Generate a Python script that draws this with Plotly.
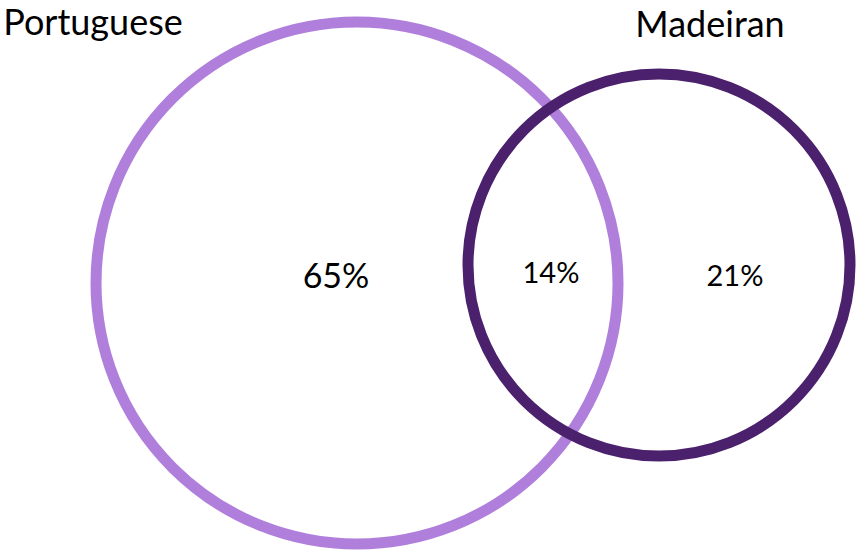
import plotly.graph_objects as go

# data
set_names = ["Portuguese", "Madeiran"]
region_values = [65, 14, 21]  # only Portuguese, both, only Madeiran (%)

# layout (pixel space of the 856x556 page)
W, H = 856, 556
circle_cx = [357, 659]
circle_cy = [283, 265]
circle_r = [261, 191]
circle_colors = ["#B07FDC", "#4B206C"]
name_x = [93, 710]
name_y = [26, 28]
region_x = [336, 551, 735]
region_y = [279, 276, 279]
region_sizes = [34, 29, 29]

fig = go.Figure()

for i in range(2):
    fig.add_shape(
        type="circle", xref="x", yref="y",
        x0=circle_cx[i] - circle_r[i], x1=circle_cx[i] + circle_r[i],
        y0=circle_cy[i] - circle_r[i], y1=circle_cy[i] + circle_r[i],
        line=dict(color=circle_colors[i], width=11),
        fillcolor="rgba(0,0,0,0)",
    )

fig.add_trace(go.Scatter(
    x=name_x, y=name_y, mode="text", text=set_names,
    textposition="middle center", cliponaxis=False,
    textfont=dict(family="Lato", size=36, color="#000000"),
    hoverinfo="skip", showlegend=False,
))

fig.add_trace(go.Scatter(
    x=region_x, y=region_y, mode="text",
    text=[f"{v}%" for v in region_values],
    textposition="middle center", cliponaxis=False,
    textfont=dict(family="Lato", size=region_sizes, color="#000000"),
    hoverinfo="skip", showlegend=False,
))

fig.update_layout(
    width=W, height=H,
    margin=dict(l=0, r=0, t=0, b=0),
    paper_bgcolor="white", plot_bgcolor="white",
    xaxis=dict(range=[0, W], visible=False, fixedrange=True),
    yaxis=dict(range=[H, 0], visible=False, fixedrange=True),
)

fig.write_html(
    "out.html",
    config={"displayModeBar": False},
    post_script="document.body.style.margin='0';document.body.style.overflow='hidden';",
)
